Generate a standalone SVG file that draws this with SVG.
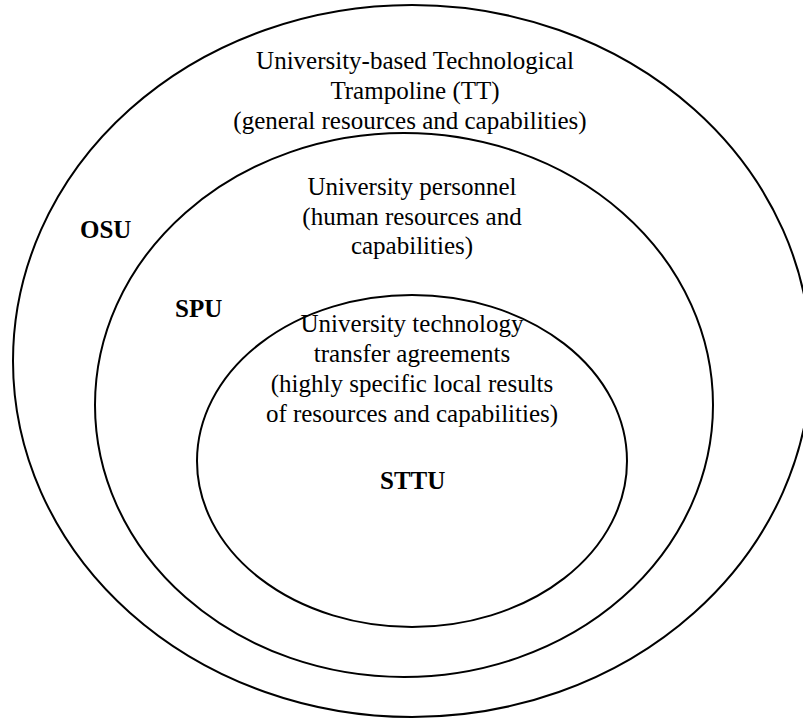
<svg xmlns="http://www.w3.org/2000/svg" width="803" height="719" viewBox="0 0 803 719">
<style>
.ring{fill:none;stroke:#000;stroke-width:2}
.t{font-family:"Liberation Serif","Times New Roman",serif;font-size:25px;fill:#000;text-anchor:middle}
.b{font-family:"Liberation Serif","Times New Roman",serif;font-size:25px;font-weight:bold;fill:#000}
</style>
<rect width="803" height="719" fill="#fff"/>
<g id="osu">
<ellipse class="ring" cx="412" cy="361" rx="399" ry="356"/>
<text class="t" x="415" y="69">University-based Technological</text>
<text class="t" x="415" y="99">Trampoline (TT)</text>
<text class="t" x="410" y="129">(general resources and capabilities)</text>
<text class="b" x="80" y="238">OSU</text>
</g>
<g id="spu">
<ellipse class="ring" cx="404" cy="405" rx="309" ry="272"/>
<text class="t" x="412" y="195">University personnel</text>
<text class="t" x="412" y="225">(human resources and</text>
<text class="t" x="412" y="254">capabilities)</text>
<text class="b" x="175" y="317">SPU</text>
</g>
<g id="sttu">
<ellipse class="ring" cx="412" cy="461" rx="215" ry="166"/>
<text class="t" x="412" y="332">University technology</text>
<text class="t" x="412" y="362">transfer agreements</text>
<text class="t" x="412" y="392">(highly specific local results</text>
<text class="t" x="412" y="422">of resources and capabilities)</text>
<text class="b" x="380" y="489">STTU</text>
</g>
<g id="connectors"></g>
</svg>
